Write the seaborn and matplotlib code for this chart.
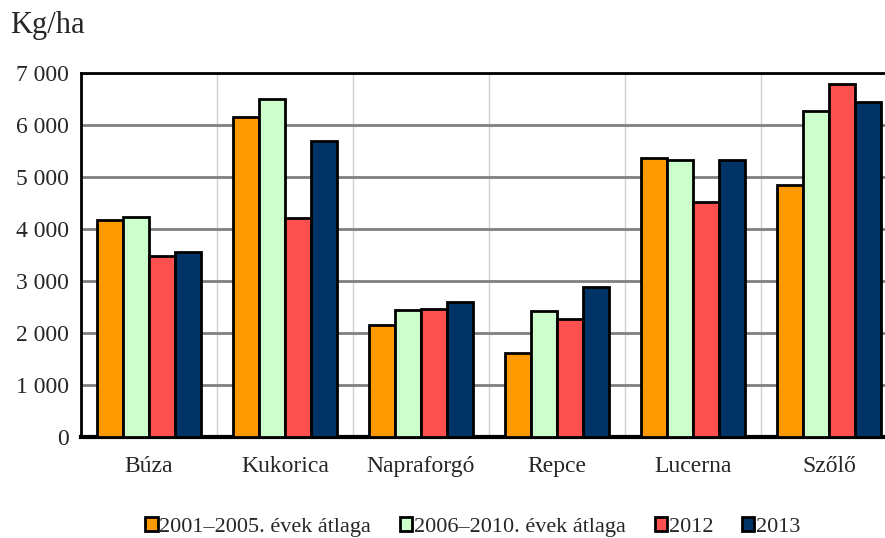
import pandas as pd
import seaborn as sns
import matplotlib.pyplot as plt
from matplotlib.ticker import FuncFormatter, FixedLocator

crops = ['Búza', 'Kukorica', 'Napraforgó', 'Repce', 'Lucerna', 'Szőlő']
periods = ['2001–2005. évek átlaga', '2006–2010. évek átlaga', '2012', '2013']
avg_2001_2005 = [4180, 6160, 2150, 1610, 5370, 4840]
avg_2006_2010 = [4240, 6505, 2440, 2430, 5330, 6260]
y2012 = [3490, 4210, 2470, 2260, 4510, 6790]
y2013 = [3550, 5700, 2590, 2880, 5320, 6440]
colors = ['#FF9900', '#CCFFCC', '#FF5050', '#003366']

rows = []
for period, vals in zip(periods, [avg_2001_2005, avg_2006_2010, y2012, y2013]):
    for crop, v in zip(crops, vals):
        rows.append({'crop': crop, 'period': period, 'value': v})
df = pd.DataFrame(rows)

sns.set_style('white')
plt.rcParams['font.family'] = ['Liberation Serif', 'DejaVu Serif']

fig = plt.figure(figsize=(8.85, 5.38), dpi=100, facecolor='w')
ax = fig.add_axes([81/885, 101/538, 816/885, 364/538])

sns.barplot(data=df, x='crop', y='value', hue='period', palette=colors, saturation=1,
            width=0.765, edgecolor='black', linewidth=2, ax=ax, zorder=3)

ax.set_xlim(-0.5, 5.5)
ax.set_ylim(0, 7000)
ax.set_yticks(range(0, 7001, 1000))
ax.yaxis.set_major_formatter(FuncFormatter(lambda v, p: f'{int(v):,}'.replace(',', ' ')))
ax.set_xlabel(None)
ax.set_ylabel(None)

# horizontal grid: dark gray, vertical grid: light gray at category edges
ax.grid(axis='y', color='#808080', linewidth=2, zorder=1)
ax.xaxis.set_minor_locator(FixedLocator([i - 0.5 for i in range(7)]))
ax.grid(axis='x', which='minor', color='#d0d0d0', linewidth=1, zorder=1)
ax.grid(axis='x', which='major', visible=False)
ax.set_axisbelow(True)

ax.tick_params(axis='x', which='major', length=0, pad=14, labelsize=17)
ax.tick_params(axis='x', which='minor', length=6, width=1.5, color='black', direction='out')
ax.tick_params(axis='y', length=5, width=1.5, color='black', direction='out', pad=4, labelsize=17)

for side in ['left', 'top']:
    ax.spines[side].set_color('black')
    ax.spines[side].set_linewidth(2)
ax.spines['bottom'].set_color('black')
ax.spines['bottom'].set_linewidth(3)
ax.spines['right'].set_visible(False)

fig.text(10/885, 1 - 25/538, 'Kg/ha', fontsize=22, va='center', ha='left')

handles, labels = ax.get_legend_handles_labels()
ax.legend_.remove()
fig.legend(handles, labels, loc='center', bbox_to_anchor=(473/885, 11/538), ncol=4,
           frameon=False, fontsize=16, handlelength=0.55, handleheight=0.55,
           handletextpad=0.08, columnspacing=1.3, borderaxespad=0)

plt.savefig('out.png', dpi=100)
